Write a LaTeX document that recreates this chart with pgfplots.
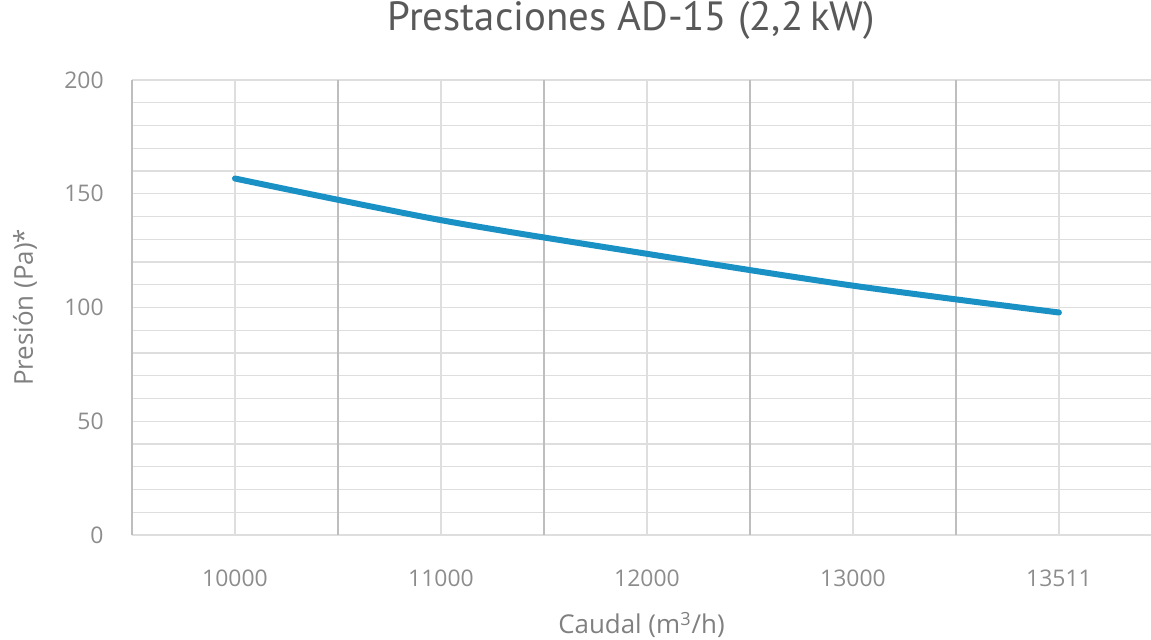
\documentclass[border=0pt]{standalone}
\usepackage{pgfplots}
\pgfplotsset{compat=1.18}
\usepackage{fontspec}
\setmainfont{Open Sans}
\newfontfamily\titlefont{PT Sans}
\definecolor{curveblue}{RGB}{26,145,196}
\definecolor{gridmajor}{RGB}{190,190,190}
\definecolor{gridminor}{RGB}{222,222,222}
\definecolor{ticktext}{RGB}{140,140,140}
\definecolor{labeltext}{RGB}{128,128,128}
\definecolor{titletext}{RGB}{89,89,89}
\begin{document}
\begin{tikzpicture}
\path[use as bounding box] (0,0) rectangle (575.5bp,320bp);
\begin{axis}[
    at={(66bp,52.5bp)}, anchor=south west,
    scale only axis,
    width=509.5bp, height=227.5bp,
    xmin=-0.5, xmax=4.447,
    ymin=0, ymax=200,
    xtick={0,1,2,3,4},
    xticklabels={10000,11000,12000,13000,13511},
    ytick={0,50,100,150,200},
    minor y tick num=4,
    extra x ticks={-0.5,0.5,1.5,2.5,3.5},
    extra x tick labels={},
    extra x tick style={grid=major, major grid style={draw=gridmajor, line width=0.8pt}},
    xmajorgrids=true,
    ymajorgrids=true,
    yminorgrids=true,
    major grid style={draw=gridminor, line width=0.7pt},
    minor grid style={draw=gridminor, line width=0.7pt},
    every axis y grid/.style={},
    y grid style={draw=gridminor},
    axis line style={draw=none},
    tick style={draw=none},
    /pgf/number format/assume math mode=true,
    tick label style={font=\fontsize{11.5}{13}\selectfont, text=ticktext},
    xticklabel style={anchor=center, inner sep=0pt, yshift=-21.5bp},
    yticklabel style={anchor=east, inner sep=0pt, xshift=-14bp},
    title={Prestaciones AD-15 (2,2\,kW)},
    title style={at={(axis description cs:0.49,1.0835)}, anchor=base,
        font=\titlefont\fontsize{20.5}{24}\selectfont, text=titletext},
    xlabel={Caudal (m\textsuperscript{3}/h)},
    xlabel style={at={(axis description cs:0.5,-0.198)}, anchor=center,
        font=\fontsize{13}{15}\selectfont, text=labeltext},
    ylabel={Presión (Pa)*},
    ylabel style={at={(axis description cs:-0.105,0.5)}, anchor=center, rotate=0,
        font=\fontsize{13}{15}\selectfont, text=labeltext},
]
\addplot[draw=curveblue, line width=3bp, smooth, line cap=round, mark=none]
    coordinates {
        (0,156.7)
        (1,138.4)
        (2,123.6)
        (3,109.6)
        (4,97.8)
    };
\end{axis}
\end{tikzpicture}
\end{document}
